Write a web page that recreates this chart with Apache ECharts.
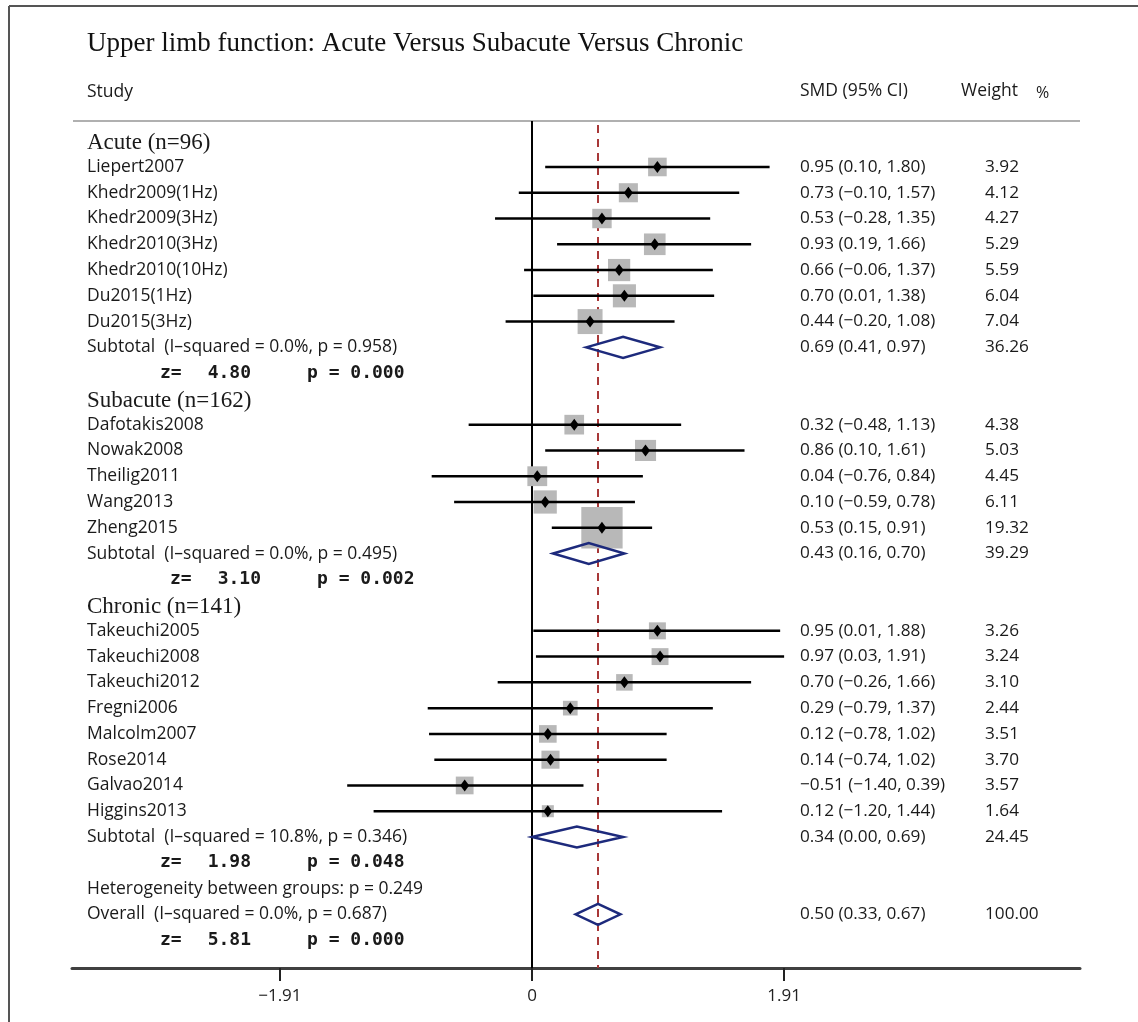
<!DOCTYPE html>
<html><head><meta charset="utf-8">
<script src="https://cdn.jsdelivr.net/npm/echarts@6/dist/echarts.min.js"></script>
<style>html,body{margin:0;padding:0;background:#fff}#c{width:1138px;height:1022px}</style>
</head><body><div id="c"></div>
<script>
// ---------------- data ----------------
const titleText = 'Upper limb function: Acute Versus Subacute Versus Chronic';
const groupNames = ['Acute (n=96)', 'Subacute (n=162)', 'Chronic (n=141)'];

const acuteStudies = ['Liepert2007','Khedr2009(1Hz)','Khedr2009(3Hz)','Khedr2010(3Hz)','Khedr2010(10Hz)','Du2015(1Hz)','Du2015(3Hz)'];
const acuteSMD    = [0.95, 0.73, 0.53, 0.93, 0.66, 0.70, 0.44];
const acuteLow    = [0.10, -0.10, -0.28, 0.19, -0.06, 0.01, -0.20];
const acuteHigh   = [1.80, 1.57, 1.35, 1.66, 1.37, 1.38, 1.08];
const acuteWeight = [3.92, 4.12, 4.27, 5.29, 5.59, 6.04, 7.04];

const subacuteStudies = ['Dafotakis2008','Nowak2008','Theilig2011','Wang2013','Zheng2015'];
const subacuteSMD    = [0.32, 0.86, 0.04, 0.10, 0.53];
const subacuteLow    = [-0.48, 0.10, -0.76, -0.59, 0.15];
const subacuteHigh   = [1.13, 1.61, 0.84, 0.78, 0.91];
const subacuteWeight = [4.38, 5.03, 4.45, 6.11, 19.32];

const chronicStudies = ['Takeuchi2005','Takeuchi2008','Takeuchi2012','Fregni2006','Malcolm2007','Rose2014','Galvao2014','Higgins2013'];
const chronicSMD    = [0.95, 0.97, 0.70, 0.29, 0.12, 0.14, -0.51, 0.12];
const chronicLow    = [0.01, 0.03, -0.26, -0.79, -0.78, -0.74, -1.40, -1.20];
const chronicHigh   = [1.88, 1.91, 1.66, 1.37, 1.02, 1.02, 0.39, 1.44];
const chronicWeight = [3.26, 3.24, 3.10, 2.44, 3.51, 3.70, 3.57, 1.64];

const subtotalSMD    = [0.69, 0.43, 0.34];
const subtotalLow    = [0.41, 0.16, 0.00];
const subtotalHigh   = [0.97, 0.70, 0.69];
const subtotalWeight = [36.26, 39.29, 24.45];
const subtotalI2     = ['0.0%', '0.0%', '10.8%'];
const subtotalHetP   = ['0.958', '0.495', '0.346'];
const subtotalZ      = ['4.80', '3.10', '1.98'];
const subtotalP      = ['0.000', '0.002', '0.048'];

const betweenGroupsP = '0.249';
const overallSMD = 0.50, overallLow = 0.33, overallHigh = 0.67, overallWeight = 100.00;
const overallI2 = '0.0%', overallHetP = '0.687', overallZ = '5.81', overallP = '0.000';

const tickValues = [-1.91, 0, 1.91];
const tickLabels = ['\u22121.91', '0', '1.91'];

// ---------------- layout ----------------
const W = 1138, H = 1022;
const PX0 = 532, PXU = 132;          // pixel of SMD 0 and pixels per unit
const GL = 72, GR = 1080, GT = 121, GB = 968;
const RY0 = 141.2, RDY = 25.77;      // pixel of row 0 and row pitch
const xMin = (GL - PX0) / PXU, xMax = (GR - PX0) / PXU;
const yMin = (GT - RY0) / RDY, yMax = (GB - RY0) / RDY;

const SANS = '"Open Sans"';
const SERIF = '"Liberation Serif"';
const MONO = '"DejaVu Sans Mono"';
const LX = 87, SX = 800, WX = 985;
const FONT_LABEL = '17.5px ' + SANS;
const FONT_NUM = '17.2px ' + SANS;
const FONT_GROUP = '23px ' + SERIF;
const FONT_Z = 'bold 18px ' + MONO;
const TXT = '#1a1a1a';
const zShift = [0, 10, 0, 0];

function fmt(v) { return (v < 0 ? '\u2212' : '') + Math.abs(v).toFixed(2); }
function ciText(m, l, h) { return fmt(m) + ' (' + fmt(l) + ', ' + fmt(h) + ')'; }

// ---------------- rows ----------------
const groups = [
  {studies: acuteStudies, smd: acuteSMD, lo: acuteLow, hi: acuteHigh, w: acuteWeight},
  {studies: subacuteStudies, smd: subacuteSMD, lo: subacuteLow, hi: subacuteHigh, w: subacuteWeight},
  {studies: chronicStudies, smd: chronicSMD, lo: chronicLow, hi: chronicHigh, w: chronicWeight}
];
const rows = [];
groups.forEach((g, gi) => {
  rows.push({kind: 'group', text: groupNames[gi]});
  g.studies.forEach((s, i) => rows.push({kind: 'study', text: s, smd: g.smd[i], lo: g.lo[i], hi: g.hi[i], w: g.w[i]}));
  rows.push({kind: 'pooled', text: 'Subtotal  (I\u2013squared = ' + subtotalI2[gi] + ', p = ' + subtotalHetP[gi] + ')',
             smd: subtotalSMD[gi], lo: subtotalLow[gi], hi: subtotalHigh[gi], w: subtotalWeight[gi]});
  rows.push({kind: 'z', z: subtotalZ[gi], p: subtotalP[gi], shift: zShift[gi]});
});
rows.push({kind: 'het', text: 'Heterogeneity between groups: p = ' + betweenGroupsP});
rows.push({kind: 'pooled', text: 'Overall  (I\u2013squared = ' + overallI2 + ', p = ' + overallHetP + ')',
           smd: overallSMD, lo: overallLow, hi: overallHigh, w: overallWeight});
rows.push({kind: 'z', z: overallZ, p: overallP, shift: zShift[3]});

const studyData = [], pooledData = [];
rows.forEach((r, i) => {
  if (r.kind === 'study') studyData.push([r.smd, i, r.lo, r.hi, r.w]);
  if (r.kind === 'pooled') pooledData.push([r.smd, i, r.lo, r.hi, r.w]);
});

function textEl(x, y, s, font, align) {
  return {type: 'text', x: x, y: y, style: {text: s, font: font, fill: TXT, align: align || 'left', verticalAlign: 'middle'}};
}

const chart = echarts.init(document.getElementById('c'), null, {renderer: 'canvas'});
chart.setOption({
  animation: false,
  backgroundColor: '#ffffff',
  grid: {left: GL, right: W - GR, top: GT, bottom: H - GB},
  xAxis: {
    type: 'value', min: xMin, max: xMax, splitLine: {show: false},
    axisLine: {show: true, onZero: false, lineStyle: {color: '#404040', width: 3}},
    axisTick: {show: true, customValues: tickValues, length: 13, lineStyle: {color: '#222', width: 2}},
    axisLabel: {
      customValues: tickValues, margin: 20, fontSize: 17, fontFamily: 'Open Sans', color: '#222',
      formatter: v => { const k = tickValues.findIndex(t => Math.abs(t - v) < 1e-6); return k >= 0 ? tickLabels[k] : ''; }
    }
  },
  yAxis: {type: 'value', inverse: true, min: yMin, max: yMax, show: false, axisLine: {onZero: false}},
  graphic: [
    {type: 'line', shape: {x1: 9, y1: 6, x2: W, y2: 6}, style: {stroke: '#555', lineWidth: 2}},
    {type: 'line', shape: {x1: 9, y1: 6, x2: 9, y2: H}, style: {stroke: '#555', lineWidth: 2}},
    {type: 'text', x: LX, y: 44, style: {text: titleText, font: '27px ' + SERIF, fill: '#111', verticalAlign: 'middle'}},
    {type: 'text', x: LX, y: 92, style: {text: 'Study', font: FONT_LABEL, fill: TXT, verticalAlign: 'middle'}},
    {type: 'text', x: SX, y: 91, style: {text: 'SMD (95% CI)', font: FONT_LABEL, fill: TXT, verticalAlign: 'middle'}},
    {type: 'text', x: 961, y: 91, style: {text: 'Weight', font: FONT_LABEL, fill: TXT, verticalAlign: 'middle'}},
    {type: 'text', x: 1036, y: 93, style: {text: '%', font: '16px ' + SANS, fill: TXT, verticalAlign: 'middle'}},
    {type: 'line', shape: {x1: 73, y1: 121, x2: 1080, y2: 121}, style: {stroke: '#b0b0b0', lineWidth: 2}}
  ],
  series: [
    {
      type: 'custom', name: 'refLines', z: 1, clip: false,
      data: [[0, yMin, 0], [overallSMD, yMin, 1]],
      encode: {x: 0, y: 1},
      renderItem: (params, api) => {
        const v = api.value(0), dashed = api.value(2) === 1;
        const a = api.coord([v, yMin]), b = api.coord([v, yMax]);
        return {type: 'line', shape: {x1: a[0], y1: a[1] + (dashed ? 4 : 0), x2: b[0], y2: b[1]},
                style: dashed ? {stroke: '#a83838', lineWidth: 2, lineDash: [8, 6]} : {stroke: '#000', lineWidth: 2}};
      }
    },
    {
      type: 'custom', name: 'studies', z: 3, clip: false,
      data: studyData, encode: {x: 0, y: 1},
      renderItem: (params, api) => {
        const row = api.value(1);
        const c = api.coord([api.value(0), row]);
        const l = api.coord([api.value(2), row]);
        const h = api.coord([api.value(3), row]);
        const s = 9.4 * Math.sqrt(api.value(4));
        return {type: 'group', children: [
          {type: 'rect', shape: {x: c[0] - s / 2, y: c[1] - s / 2, width: s, height: s}, style: {fill: '#b8b8b8'}},
          {type: 'line', shape: {x1: l[0], y1: c[1], x2: h[0], y2: c[1]}, style: {stroke: '#000', lineWidth: 2.5}},
          {type: 'polygon', shape: {points: [[c[0], c[1] - 6], [c[0] + 4.5, c[1]], [c[0], c[1] + 6], [c[0] - 4.5, c[1]]]}, style: {fill: '#000'}}
        ]};
      }
    },
    {
      type: 'custom', name: 'pooled', z: 3, clip: false,
      data: pooledData, encode: {x: 0, y: 1},
      renderItem: (params, api) => {
        const row = api.value(1);
        const c = api.coord([api.value(0), row]);
        const l = api.coord([api.value(2), row]);
        const h = api.coord([api.value(3), row]);
        const hh = 10.5;
        return {type: 'polygon', shape: {points: [[l[0], c[1]], [c[0], c[1] - hh], [h[0], c[1]], [c[0], c[1] + hh]]},
                style: {fill: 'rgba(255,255,255,0)', stroke: '#1d2a7c', lineWidth: 2.5, lineJoin: 'miter'}};
      }
    },
    {
      type: 'custom', name: 'texts', z: 4, clip: false,
      data: rows.map((r, i) => [0, i]), encode: {x: 0, y: 1},
      renderItem: (params, api) => {
        const r = rows[params.dataIndex];
        const y = api.coord([0, api.value(1)])[1];
        const els = [];
        if (r.kind === 'group') {
          els.push(textEl(LX, y + 2, r.text, FONT_GROUP));
        } else if (r.kind === 'study' || r.kind === 'pooled') {
          els.push(textEl(LX, y, r.text, FONT_LABEL));
          els.push(textEl(SX, y, ciText(r.smd, r.lo, r.hi), FONT_NUM));
          els.push(textEl(WX, y, r.w.toFixed(2), FONT_NUM));
        } else if (r.kind === 'het') {
          els.push(textEl(LX, y, r.text, FONT_LABEL));
        } else if (r.kind === 'z') {
          els.push(textEl(160 + r.shift, y, 'z=', FONT_Z));
          els.push(textEl(251 + r.shift, y, r.z, FONT_Z, 'right'));
          els.push(textEl(307 + r.shift, y, 'p = ' + r.p, FONT_Z));
        }
        return {type: 'group', children: els};
      }
    }
  ]
});
</script>
</body></html>
